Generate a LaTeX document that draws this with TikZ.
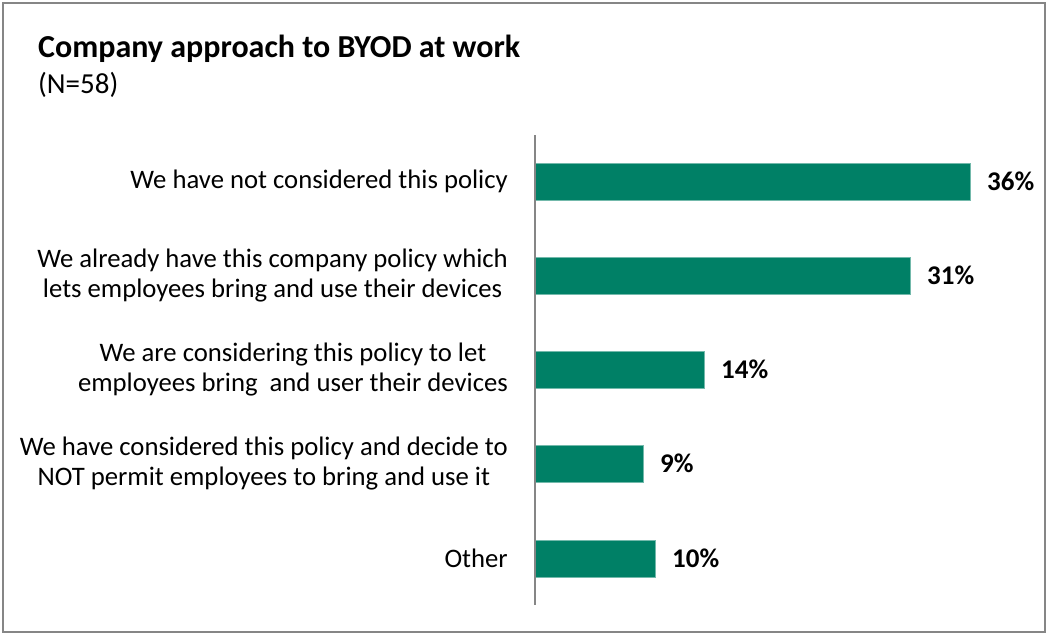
\documentclass[tikz,border=0pt]{standalone}
\usepackage{fontspec}
\setmainfont{Carlito}
\usepackage{xcolor}
\usetikzlibrary{positioning}

\definecolor{barteal}{RGB}{0,128,102}
\definecolor{framegray}{RGB}{134,134,134}

\tikzset{
	catlabel/.style={anchor=east, align=center, inner sep=0, font=\fontsize{26.7}{29.5}\selectfont},
	vallabel/.style={anchor=west, inner sep=0, font=\fontsize{27}{30}\selectfont\bfseries},
	barbox/.style={fill=barteal, draw=barteal!55!white, line width=0.7pt}
}

\begin{document}
\begin{tikzpicture}[x=1pt, y=-1pt]
	\useasboundingbox (0,0) rectangle (1049,635);
	\draw[framegray, line width=1.3pt] (3,3) rectangle (1045,632);
	\node[anchor=base west, inner sep=0, font=\fontsize{32}{36}\selectfont\bfseries] (title) at (38,57) {Company approach to BYOD at work};
	\node[anchor=base west, inner sep=0, font=\fontsize{29}{32}\selectfont] (sample) at (38,93) {(N=58)};
	\foreach \yc/\len/\val/\txt [count=\i] in {
		181.5/435/36/{We have not considered this policy},
		275.5/375/31/{We already have this company policy which\\lets employees bring and use their devices},
		369.5/169/14/{We are considering this policy to let\\employees bring\ \ and user their devices},
		463.5/108/9/{We have considered this policy and decide to\\NOT permit employees to bring and use it},
		558.5/120/10/{Other}}{
		\draw[barbox] (535,\yc-18.5) rectangle ++(\len,37);
		\node[vallabel] (val\i) at (535+\len+17,\yc) {\val\%};
		\node[catlabel] (cat\i) at (508,\yc) {\txt};
	}
	\draw[framegray, line width=1.3pt] (535,135) -- (535,605);
\end{tikzpicture}
\end{document}
